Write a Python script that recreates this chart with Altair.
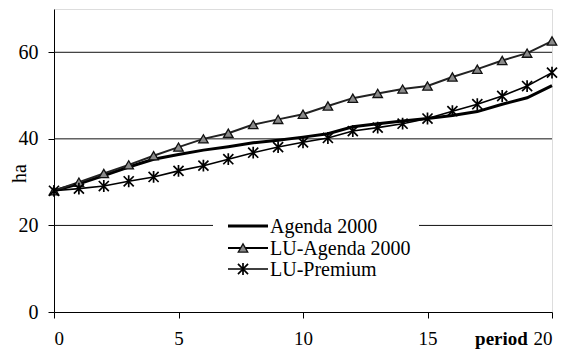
import altair as alt
import pandas as pd

period = list(range(21))
agenda = [28, 29.6, 31.5, 33.5, 35.3, 36.4, 37.4, 38.2, 39.1, 39.7, 40.4, 41.2, 42.8, 43.5, 44.1, 44.7, 45.4, 46.3, 48.0, 49.5, 52.3]
lu_agenda = [28, 30.0, 32.0, 34.0, 36.1, 38.1, 40.0, 41.3, 43.3, 44.5, 45.7, 47.6, 49.4, 50.5, 51.5, 52.2, 54.3, 56.1, 58.1, 59.8, 62.6]
lu_premium = [28, 28.5, 29.1, 30.2, 31.2, 32.6, 33.8, 35.3, 36.8, 38.1, 39.2, 40.2, 41.8, 42.6, 43.5, 44.7, 46.4, 48.0, 49.9, 52.2, 55.3]
series_names = ["Agenda 2000", "LU-Agenda 2000", "LU-Premium"]
y_ticks = [0, 20, 40, 60]
x_ticks = [0, 5, 10, 15, 20]

FONT = "Liberation Serif"
STAR = "M0,-1L0,1M-0.85,-0.85L0.85,0.85M-0.85,0.85L0.85,-0.85"
W, H = 498, 303

df = pd.DataFrame({"period": period, "Agenda 2000": agenda,
                   "LU-Agenda 2000": lu_agenda, "LU-Premium": lu_premium})

xs = alt.Scale(domain=[0, 20], nice=False, zero=False)
ys = alt.Scale(domain=[0, 70], nice=False)

xaxis = alt.Axis(values=x_ticks, title="period", titleFont=FONT, titleFontSize=19,
                 titleFontWeight="bold", titleX=447, titleY=32, titleBaseline="alphabetic",
                 titleAlign="center",
                 labelFont=FONT, labelFontSize=19, labelBaseline="alphabetic",
                 labelPadding=26, tickSize=6,
                 tickColor="black", domainColor="black", labelColor="black",
                 titleColor="black", grid=False)
yaxis = alt.Axis(values=y_ticks, title="ha", titleFont=FONT, titleFontSize=20,
                 titleFontWeight="normal", titleX=-29, titleY=164,
                 titleBaseline="alphabetic", titleColor="black",
                 labelFont=FONT, labelFontSize=20, labelPadding=10, tickSize=6,
                 tickColor="black", domainColor="black", labelColor="black",
                 grid=False)

base = alt.Chart(df)

grid = alt.Chart(pd.DataFrame({"v": y_ticks[1:]})).mark_rule(color="#111", strokeWidth=1).encode(
    y=alt.Y("v:Q", scale=ys, axis=yaxis),
    x=alt.value(0), x2=alt.value(W))

l_agenda = base.mark_line(color="black", strokeWidth=3).encode(
    x=alt.X("period:Q", scale=xs, axis=xaxis), y=alt.Y("Agenda 2000:Q", scale=ys))
l_lua = base.mark_line(color="#222", strokeWidth=2).encode(
    x=alt.X("period:Q", scale=xs), y=alt.Y("LU-Agenda 2000:Q", scale=ys))
p_lua = base.mark_point(shape="triangle-up", filled=True, fill="#8a8a8a", stroke="#111",
                        strokeWidth=1.3, size=90, opacity=1).encode(
    x=alt.X("period:Q", scale=xs), y=alt.Y("LU-Agenda 2000:Q", scale=ys))
l_lup = base.mark_line(color="black", strokeWidth=1.6).encode(
    x=alt.X("period:Q", scale=xs), y=alt.Y("LU-Premium:Q", scale=ys))
p_lup = base.mark_point(shape=STAR, filled=False, stroke="black", strokeWidth=1.7,
                        size=140, opacity=1).encode(
    x=alt.X("period:Q", scale=xs), y=alt.Y("LU-Premium:Q", scale=ys))

# legend
leg_bg = alt.Chart(pd.DataFrame({"a": [0]})).mark_rect(color="white").encode(
    x=alt.value(159), x2=alt.value(365), y=alt.value(206), y2=alt.value(272))
rows_y = [217, 239, 260]
leg_layers = [leg_bg]
widths = [3, 2, 1.6]
for i, name in enumerate(series_names):
    d = pd.DataFrame({"name": [name]})
    leg_layers.append(alt.Chart(d).mark_rule(color="black", strokeWidth=widths[i]).encode(
        x=alt.value(174), x2=alt.value(214), y=alt.value(rows_y[i])))
    leg_layers.append(alt.Chart(d).mark_text(align="left", baseline="middle", font=FONT,
                                             fontSize=20, color="black").encode(
        x=alt.value(216), y=alt.value(rows_y[i] + 1), text="name:N"))
leg_layers.append(alt.Chart(pd.DataFrame({"a": [0]})).mark_point(
    shape="triangle-up", filled=True, fill="#8a8a8a", stroke="#111", strokeWidth=1.3,
    size=90, opacity=1).encode(x=alt.value(189), y=alt.value(rows_y[1])))
leg_layers.append(alt.Chart(pd.DataFrame({"a": [0]})).mark_point(
    shape=STAR, filled=False, stroke="black", strokeWidth=1.7, size=140,
    opacity=1).encode(x=alt.value(189), y=alt.value(rows_y[2])))

chart = alt.layer(grid, l_agenda, l_lua, p_lua, l_lup, p_lup, *leg_layers).properties(
    width=W, height=H,
    autosize=alt.AutoSizeParams(type="none"),
    padding={"left": 46, "top": 1, "right": 9, "bottom": 37},
).configure_view(stroke=None).configure(background="white")

chart.save("out.html", embed_options={"renderer": "svg", "actions": False})
